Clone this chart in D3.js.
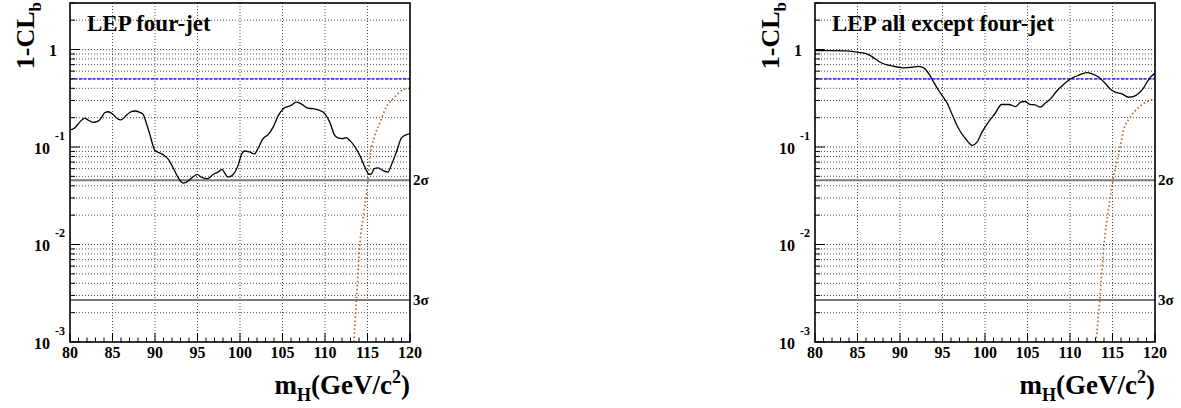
<!DOCTYPE html>
<html>
<head>
<meta charset="utf-8">
<script src="https://cdn.jsdelivr.net/npm/d3@7"></script>
<style>
  html, body { margin: 0; padding: 0; background: #fff; }
  svg text { font-family: "Liberation Serif", "Times New Roman", serif; font-weight: bold; fill: #000; }
</style>
</head>
<body>
<svg id="chart" width="1181" height="408"></svg>
<script>
// ---------------- data ----------------
const panelTitles = ["LEP four-jet", "LEP all except four-jet"];
const xTicks = [80, 85, 90, 95, 100, 105, 110, 115, 120];
const yDecades = [1e-3, 1e-2, 1e-1, 1];
const yDecadeExps = ["-3", "-2", "-1", ""];
const sigmaLevels = [0.0455, 0.0027];
const sigmaLabels = ["2σ", "3σ"];
const medianLevel = 0.5;

// LEP four-jet: observed 1-CLb
const fourJetMass = [80.0, 80.55, 81.14, 81.73, 82.1, 82.7, 83.3, 83.7, 84.1, 84.5, 85.06, 85.65, 86.0, 86.6, 87.2, 87.6, 88.2, 88.6, 89.0, 89.4, 89.8, 90.0, 90.55, 91.1, 91.5, 92.1, 92.7, 93.3, 93.7, 94.3, 94.98, 95.45, 96.2, 96.8, 97.4, 97.9, 98.2, 98.6, 99.2, 99.8, 100.2, 100.55, 101.1, 101.7, 102.1, 102.7, 103.3, 103.9, 104.5, 105.1, 105.6, 106.0, 106.6, 107.2, 108.0, 108.6, 109.4, 110.0, 110.55, 111.1, 111.5, 112.1, 112.5, 112.9, 113.5, 114.1, 114.7, 115.2, 115.45, 115.8, 116.2, 116.8, 117.4, 117.8, 118.4, 119.0, 119.6, 120.0];
const fourJetObs = [0.150, 0.157, 0.18, 0.198, 0.19, 0.179, 0.184, 0.20, 0.226, 0.23, 0.216, 0.193, 0.19, 0.21, 0.231, 0.234, 0.227, 0.216, 0.173, 0.134, 0.101, 0.092, 0.087, 0.082, 0.076, 0.062, 0.049, 0.0427, 0.0437, 0.048, 0.0524, 0.049, 0.0473, 0.052, 0.0553, 0.059, 0.054, 0.049, 0.0522, 0.066, 0.085, 0.091, 0.089, 0.085, 0.096, 0.122, 0.134, 0.16, 0.21, 0.247, 0.26, 0.267, 0.288, 0.277, 0.25, 0.247, 0.237, 0.219, 0.18, 0.134, 0.124, 0.122, 0.125, 0.117, 0.101, 0.082, 0.062, 0.0524, 0.053, 0.06, 0.061, 0.0575, 0.0553, 0.065, 0.089, 0.124, 0.134, 0.137];
// LEP four-jet: expected (signal+background)
const fourJetExpMass = [113.4, 113.7, 114.1, 114.6, 114.9, 115.05, 115.15, 115.3, 115.5, 115.9, 116.4, 117.2, 118.2, 119.0, 120.0];
const fourJetExp = [0.001, 0.0027, 0.01, 0.022, 0.034, 0.0455, 0.06, 0.08, 0.1, 0.135, 0.173, 0.256, 0.324, 0.38, 0.40];

// LEP all except four-jet: observed 1-CLb
const otherMass = [80.0, 82.0, 83.6, 85.1, 86.3, 87.1, 87.9, 88.7, 89.85, 90.6, 91.4, 92.2, 92.8, 93.4, 93.96, 94.55, 95.1, 95.5, 96.1, 96.9, 97.7, 98.5, 99.06, 99.65, 100.4, 101.2, 101.96, 102.8, 103.6, 104.2, 104.7, 105.3, 105.9, 106.5, 107.1, 107.7, 108.5, 109.3, 110.0, 111.0, 112.0, 112.6, 113.4, 114.2, 114.7, 115.3, 116.1, 116.9, 117.5, 118.1, 118.7, 119.3, 119.9, 120.0];
const otherObs = [0.975, 0.975, 0.967, 0.936, 0.887, 0.80, 0.723, 0.69, 0.658, 0.648, 0.658, 0.673, 0.648, 0.563, 0.463, 0.38, 0.324, 0.288, 0.219, 0.154, 0.122, 0.104, 0.112, 0.142, 0.18, 0.222, 0.273, 0.273, 0.26, 0.288, 0.293, 0.273, 0.27, 0.256, 0.282, 0.312, 0.38, 0.444, 0.496, 0.544, 0.58, 0.563, 0.52, 0.444, 0.395, 0.365, 0.351, 0.324, 0.33, 0.356, 0.41, 0.5, 0.563, 0.57];
// LEP all except four-jet: expected (signal+background)
const otherExpMass = [113.06, 113.5, 114.0, 114.6, 115.05, 115.5, 115.9, 116.3, 117.1, 118.1, 119.0, 119.6, 120.0];
const otherExp = [0.001, 0.0027, 0.01, 0.025, 0.0455, 0.07, 0.1, 0.148, 0.202, 0.256, 0.29, 0.305, 0.31];

// ---------------- drawing ----------------
const svg = d3.select("#chart");
const panels = [
  { left: 70, title: panelTitles[0], mass: fourJetMass, obs: fourJetObs, expMass: fourJetExpMass, exp: fourJetExp },
  { left: 815, title: panelTitles[1], mass: otherMass, obs: otherObs, expMass: otherExpMass, exp: otherExp }
];
const W = 340, TOP = 3, BOTTOM = 342;

panels.forEach((p, i) => {
  const x = d3.scaleLinear().domain([80, 120]).range([p.left, p.left + W]);
  const y = d3.scaleLog().domain([1e-3, 3]).range([BOTTOM, TOP]);
  const line = d3.line().x(d => x(d[0])).y(d => y(d[1])).curve(d3.curveMonotoneX);
  const g = svg.append("g");

  const clipId = "clip" + i;
  svg.append("clipPath").attr("id", clipId).append("rect")
    .attr("x", p.left).attr("y", TOP).attr("width", W).attr("height", BOTTOM - TOP);

  // horizontal grid at every minor value
  const hGrid = [];
  yDecades.forEach(d => { for (let k = 1; k <= 9; k++) { const v = d * k; if (v > 1e-3 && v < 3) hGrid.push(v); } });
  g.append("g").selectAll("line").data(hGrid).join("line")
    .attr("x1", p.left).attr("x2", p.left + W)
    .attr("y1", d => y(d)).attr("y2", d => y(d))
    .attr("stroke", "#222").attr("stroke-width", 0.8).attr("stroke-dasharray", "1,2");
  // vertical grid
  g.append("g").selectAll("line").data(xTicks.slice(1, -1)).join("line")
    .attr("x1", d => x(d)).attr("x2", d => x(d))
    .attr("y1", TOP).attr("y2", BOTTOM)
    .attr("stroke", "#222").attr("stroke-width", 0.8).attr("stroke-dasharray", "1,2");

  // sigma lines
  g.append("g").selectAll("line").data(sigmaLevels).join("line")
    .attr("x1", p.left).attr("x2", p.left + W)
    .attr("y1", d => y(d)).attr("y2", d => y(d))
    .attr("stroke", "#7a7a7a").attr("stroke-width", 2);
  g.append("g").selectAll("text").data(sigmaLevels).join("text")
    .attr("x", p.left + W + 3).attr("y", d => y(d) + 5)
    .attr("font-size", 15).text((d, j) => sigmaLabels[j]);

  // median (0.5) line
  g.append("line")
    .attr("x1", p.left).attr("x2", p.left + W)
    .attr("y1", y(medianLevel)).attr("y2", y(medianLevel))
    .attr("stroke", "#3b3bff").attr("stroke-width", 1.6).attr("stroke-dasharray", "3,1.5");

  const plot = g.append("g").attr("clip-path", `url(#${clipId})`);
  // expected curve
  plot.append("path")
    .datum(p.expMass.map((m, j) => [m, p.exp[j]]))
    .attr("fill", "none").attr("stroke", "#a8652e").attr("stroke-width", 1.7)
    .attr("stroke-dasharray", "1.5,2.5")
    .attr("d", line);
  // observed curve
  plot.append("path")
    .datum(p.mass.map((m, j) => [m, p.obs[j]]))
    .attr("fill", "none").attr("stroke", "#000").attr("stroke-width", 1.3)
    .attr("d", line);

  // frame
  g.append("rect").attr("x", p.left).attr("y", TOP).attr("width", W).attr("height", BOTTOM - TOP)
    .attr("fill", "none").attr("stroke", "#000").attr("stroke-width", 1.6);

  // x ticks (inward)
  const xMinor = d3.range(80, 121, 1);
  g.append("g").selectAll("line").data(xMinor).join("line")
    .attr("x1", d => x(d)).attr("x2", d => x(d))
    .attr("y1", BOTTOM).attr("y2", d => BOTTOM - (d % 5 === 0 ? 9 : 4.5))
    .attr("stroke", "#000").attr("stroke-width", 1);
  g.append("g").selectAll("text").data(xTicks).join("text")
    .attr("x", d => x(d)).attr("y", BOTTOM + 16)
    .attr("text-anchor", "middle").attr("font-size", 16).text(d => d);

  // y ticks (inward)
  const yMinor = [];
  yDecades.forEach(d => { for (let k = 1; k <= 9; k++) { const v = d * k; if (v >= 1e-3 && v <= 3) yMinor.push({ v, major: k === 1 }); } });
  g.append("g").selectAll("line").data(yMinor).join("line")
    .attr("x1", p.left).attr("x2", d => p.left + (d.major ? 10 : 5))
    .attr("y1", d => y(d.v)).attr("y2", d => y(d.v))
    .attr("stroke", "#000").attr("stroke-width", 1);

  // y tick labels
  yDecades.forEach((d, j) => {
    if (yDecadeExps[j] === "") {
      g.append("text").attr("x", p.left - 13).attr("y", y(d) + 6)
        .attr("text-anchor", "end").attr("font-size", 16).text("1");
    } else {
      g.append("text").attr("x", p.left - 20).attr("y", y(d) + 6.5)
        .attr("text-anchor", "end").attr("font-size", 16).text("10");
      g.append("text").attr("x", p.left - 15).attr("y", y(d) - 7.5)
        .attr("text-anchor", "start").attr("font-size", 12).text(yDecadeExps[j]);
    }
  });

  // y title
  const yt = g.append("text")
    .attr("transform", `translate(${p.left - 36},2) rotate(-90)`)
    .attr("text-anchor", "end").attr("font-size", 26);
  yt.append("tspan").text("1-CL");
  yt.append("tspan").attr("font-size", 17).attr("dy", 7).text("b");

  // x title
  const xt = g.append("text")
    .attr("x", p.left + W).attr("y", 394)
    .attr("text-anchor", "end").attr("font-size", 27);
  xt.append("tspan").text("m");
  xt.append("tspan").attr("font-size", 18).attr("dy", 7).text("H");
  xt.append("tspan").attr("dy", -7).text("(GeV/c");
  xt.append("tspan").attr("font-size", 18).attr("dy", -11).text("2");
  xt.append("tspan").attr("dy", 11).text(")");

  // panel title
  g.append("text").attr("x", p.left + 17).attr("y", 31)
    .attr("font-size", 23).text(p.title);
});
</script>
</body>
</html>
